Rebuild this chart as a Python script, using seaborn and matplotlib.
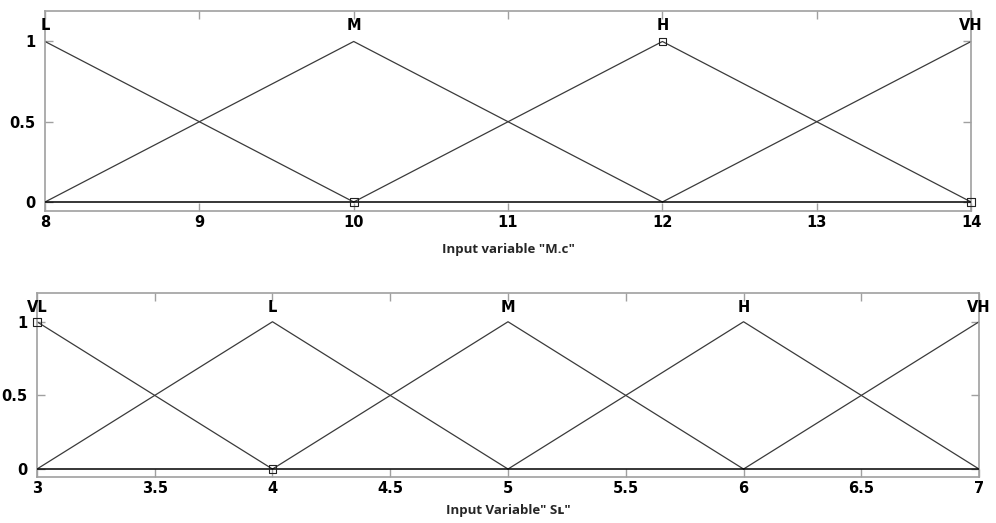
import numpy as np
import pandas as pd
import matplotlib
matplotlib.use("Agg")
import matplotlib.pyplot as plt
import seaborn as sns

# ---------------- data ----------------
# Top panel: input variable "M.c"
top_names = ["L", "M", "H", "VH"]
top_peaks = [8, 10, 12, 14]
top_L_x, top_L_y = [8, 10], [1, 0]
top_M_x, top_M_y = [8, 10, 12], [0, 1, 0]
top_H_x, top_H_y = [10, 12, 14], [0, 1, 0]
top_VH_x, top_VH_y = [12, 14], [0, 1]
top_xticks = [8, 9, 10, 11, 12, 13, 14]
top_marker_x = [10, 12, 14]
top_marker_y = [0, 1, 0]
top_xlabel = 'Input variable "M.c"'

# Bottom panel: input variable SL
bot_names = ["VL", "L", "M", "H", "VH"]
bot_peaks = [3, 4, 5, 6, 7]
bot_VL_x, bot_VL_y = [3, 4], [1, 0]
bot_L_x, bot_L_y = [3, 4, 5], [0, 1, 0]
bot_M_x, bot_M_y = [4, 5, 6], [0, 1, 0]
bot_H_x, bot_H_y = [5, 6, 7], [0, 1, 0]
bot_VH_x, bot_VH_y = [6, 7], [0, 1]
bot_xticks = [3, 3.5, 4, 4.5, 5, 5.5, 6, 6.5, 7]
bot_xticklabels = ["3", "3.5", "4", "4.5", "5", "5.5", "6", "6.5", "7"]
bot_marker_x = [3, 4]
bot_marker_y = [1, 0]
bot_xlabel = 'Input Variable" S\u029f"'

yticks = [0, 0.5, 1]
yticklabels = ["0", "0.5", "1"]

sns.set_theme(style="white")
plt.rcParams['font.family'] = ['DejaVu Sans']
plt.rcParams['text.color'] = 'black'
plt.rcParams['xtick.labelcolor'] = 'black'
plt.rcParams['ytick.labelcolor'] = 'black'

fig = plt.figure(figsize=(9.96, 5.23), dpi=100)
ax1 = fig.add_axes([0.0452, 0.5966, 0.975 - 0.0452, 0.979 - 0.5966])
ax2 = fig.add_axes([0.0371, 0.0885, 0.983 - 0.0371, 0.4403 - 0.0885])


def build(names, xs, ys):
    rows = []
    for n, x, y in zip(names, xs, ys):
        for xi, yi in zip(x, y):
            rows.append({"mf": n, "x": xi, "y": yi})
    return pd.DataFrame(rows)


df_top = build(top_names, [top_L_x, top_M_x, top_H_x, top_VH_x],
               [top_L_y, top_M_y, top_H_y, top_VH_y])
df_bot = build(bot_names, [bot_VL_x, bot_L_x, bot_M_x, bot_H_x, bot_VH_x],
               [bot_VL_y, bot_L_y, bot_M_y, bot_H_y, bot_VH_y])

line_col = "#3a3a3a"
spine_col = "#a0a0a0"


def style(ax, df, names, peaks, xticks, xticklabels, mx, my, xlabel, ylim, lpad):
    sns.lineplot(data=df, x="x", y="y", units="mf", estimator=None,
                 color=line_col, lw=0.9, ax=ax, legend=False, sort=False)
    ax.axhline(0, color="black", lw=1.1, zorder=3)
    sns.scatterplot(x=mx, y=my, marker="s", s=30, facecolor="none",
                    edgecolor="#222222", linewidth=0.8, ax=ax, zorder=4, clip_on=False)
    ax.set_xlim(min(peaks), max(peaks))
    ax.set_ylim(*ylim)
    ax.set_xticks(xticks)
    ax.set_xticklabels(xticklabels, fontweight="bold", fontsize=10.5)
    ax.set_yticks(yticks)
    ax.set_yticklabels(yticklabels, fontweight="bold", fontsize=10.5)
    ax.tick_params(direction="in", length=6, width=1, color=spine_col,
                   top=True, right=True, bottom=True, left=True, pad=3)
    ax.tick_params(axis="y", pad=7)
    for sp in ax.spines.values():
        sp.set_color(spine_col)
        sp.set_linewidth(1.2)
    ax.set_xlabel(xlabel, fontweight="bold", fontsize=9.5, labelpad=lpad,
                  family=["Open Sans", "DejaVu Sans"])
    ax.set_ylabel("")
    for n, p in zip(names, peaks):
        ax.text(p, 1.1, n, ha="center", va="center", fontweight="bold",
                fontsize=10.5, clip_on=False)


style(ax1, df_top, top_names, top_peaks, top_xticks,
      [str(t) for t in top_xticks], top_marker_x, top_marker_y,
      top_xlabel, (-0.056, 1.19), 9)
style(ax2, df_bot, bot_names, bot_peaks, bot_xticks, bot_xticklabels,
      bot_marker_x, bot_marker_y, bot_xlabel, (-0.052, 1.197), 6)

fig.savefig("out.png", dpi=100, facecolor="white")
